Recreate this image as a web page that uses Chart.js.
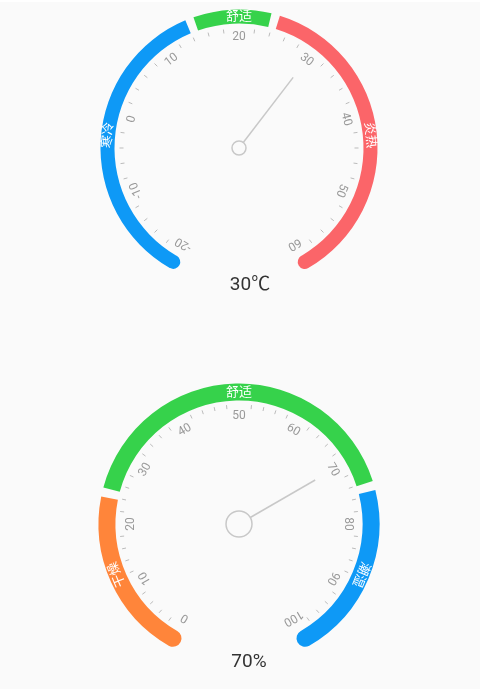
<!DOCTYPE html>
<html><head><meta charset="utf-8">
<script src="https://cdn.jsdelivr.net/npm/chart.js@4.4.1/dist/chart.umd.min.js"></script>
<style>
html,body{margin:0;padding:0;background:#fafafa;}
body{width:480px;height:689px;overflow:hidden;position:relative;}
.strip{position:absolute;left:0;top:0;width:480px;height:2px;background:#fff;}
canvas{display:block;}
</style></head><body>
<canvas id="c1" width="480" height="344"></canvas>
<canvas id="c2" width="480" height="345"></canvas>
<div class="strip"></div>
<script>
// ---- Temperature gauge data ----
const tempMin = -20;
const tempMax = 60;
const tempTickLabels = [-20, -10, 0, 10, 20, 30, 40, 50, 60];
const tempMinorStep = 2;
const tempBandNames = ['寒冷', '舒适', '炎热'];
const tempBandBounds = [-20, 14.4, 24.1, 60];
const tempBandLabelAt = [-2.5, 20, 42.5];
const tempValue = 30;
const tempUnit = '℃';

// ---- Humidity gauge data ----
const humMin = 0;
const humMax = 100;
const humTickLabels = [0, 10, 20, 30, 40, 50, 60, 70, 80, 90, 100];
const humMinorStep = 2;
const humBandNames = ['干燥', '舒适', '潮湿'];
const humBandBounds = [0, 24.4, 74.7, 100];
const humBandLabelAt = [12.5, 50, 87.5];
const humValue = 70;
const humUnit = '%';

const FONT = "Roboto, 'Noto Sans CJK SC', sans-serif";

function makeGauge(id, g, s) {
  const span = g.max - g.min;
  const dpu = s.sweep / span;
  const mid = (s.outer + s.inner) / 2;
  const capR = (s.outer - s.inner) / 2;
  const cap = capR / mid * 180 / Math.PI;
  const data = [], colors = [], radii = [];
  const n = g.bounds.length - 1;
  for (let i = 0; i < n; i++) {
    let len = (g.bounds[i + 1] - g.bounds[i]) * dpu;
    len += (i === 0) ? cap : -s.gap / 2;
    len += (i === n - 1) ? cap : -s.gap / 2;
    data.push(len); colors.push(s.colors[i]);
    radii.push({outerStart: i === 0 ? capR : 0, innerStart: i === 0 ? capR : 0,
                outerEnd: i === n - 1 ? capR : 0, innerEnd: i === n - 1 ? capR : 0});
    if (i < n - 1) { data.push(s.gap); colors.push('rgba(0,0,0,0)'); radii.push(0); }
  }
  const used = data.reduce((a, b) => a + b, 0);
  data.push(360 - used); colors.push('rgba(0,0,0,0)'); radii.push(0);

  const plugin = {
    id: 'gauge_' + id,
    afterDatasetsDraw(chart) {
      const ctx = chart.ctx;
      const el = chart.getDatasetMeta(0).data[0];
      const cx = el.x, cy = el.y;
      const ang = v => (s.start - (v - g.min) * dpu) * Math.PI / 180;
      const pt = (v, r) => [cx + r * Math.cos(ang(v)), cy - r * Math.sin(ang(v))];
      ctx.save();
      // minor ticks
      ctx.strokeStyle = s.tickColor; ctx.lineWidth = 1;
      for (let v = g.min; v <= g.max + 1e-9; v += g.minorStep) {
        if (g.ticks.some(t => Math.abs(t - v) < 1e-6)) continue;
        const [x1, y1] = pt(v, s.tickIn), [x2, y2] = pt(v, s.tickOut);
        ctx.beginPath(); ctx.moveTo(x1, y1); ctx.lineTo(x2, y2); ctx.stroke();
      }
      // tick labels
      ctx.font = s.labelFont; ctx.fillStyle = s.labelColor;
      ctx.textAlign = 'center'; ctx.textBaseline = 'middle';
      g.ticks.forEach(t => {
        const [x, y] = pt(t, s.labelR);
        ctx.save(); ctx.translate(x, y); ctx.rotate(Math.PI / 2 - ang(t));
        ctx.fillText(String(t), 0, 0); ctx.restore();
      });
      // band names
      ctx.font = s.bandFont; ctx.fillStyle = '#ffffff';
      g.names.forEach((nm, i) => {
        const v = g.labelAt[i];
        const [x, y] = pt(v, mid);
        ctx.save(); ctx.translate(x, y); ctx.rotate(Math.PI / 2 - ang(v));
        ctx.fillText(nm, 0, 0.5); ctx.restore();
      });
      // pointer
      const a = ang(g.value);
      ctx.strokeStyle = s.needleColor; ctx.lineWidth = 1.5;
      ctx.beginPath();
      ctx.moveTo(cx + s.hub * Math.cos(a), cy - s.hub * Math.sin(a));
      ctx.lineTo(cx + s.needle * Math.cos(a), cy - s.needle * Math.sin(a));
      ctx.stroke();
      ctx.beginPath(); ctx.arc(cx, cy, s.hub, 0, Math.PI * 2); ctx.stroke();
      // value text
      ctx.font = s.valueFont; ctx.fillStyle = '#333333';
      ctx.fillText(g.value + g.unit, cx + s.textDX, cy + s.textDY);
      ctx.restore();
    }
  };

  return new Chart(document.getElementById(id), {
    type: 'doughnut',
    data: {
      labels: data.map((_, i) => 'seg' + i),
      datasets: [{
        data: data,
        backgroundColor: colors,
        borderWidth: 0,
        hoverOffset: 0,
        borderRadius: c => radii[c.dataIndex]
      }]
    },
    options: {
      responsive: false,
      animation: false,
      events: [],
      rotation: 90 - (s.start + cap),
      circumference: 360,
      radius: s.outer,
      cutout: (s.inner / s.outer * 100) + '%',
      layout: {padding: s.padding},
      plugins: {legend: {display: false}, tooltip: {enabled: false}}
    },
    plugins: [plugin]
  });
}

makeGauge('c1', {
  min: tempMin, max: tempMax, ticks: tempTickLabels, minorStep: tempMinorStep,
  names: tempBandNames, bounds: tempBandBounds, labelAt: tempBandLabelAt,
  value: tempValue, unit: tempUnit
}, {
  start: 240, sweep: 300, outer: 138.5, inner: 124.5, gap: 3.6,
  colors: ['#0e99f6', '#36d24b', '#fb6569'],
  tickIn: 115.5, tickOut: 119.5, tickColor: '#bbbbbb',
  labelR: 111, labelFont: '12px ' + FONT, labelColor: '#999999',
  bandFont: '13px ' + FONT,
  needle: 89, hub: 7, needleColor: '#c8c8c8',
  valueFont: '19px ' + FONT, textDX: 11, textDY: 137,
  padding: {left: 0, right: 2, top: 0, bottom: 48}
});

makeGauge('c2', {
  min: humMin, max: humMax, ticks: humTickLabels, minorStep: humMinorStep,
  names: humBandNames, bounds: humBandBounds, labelAt: humBandLabelAt,
  value: humValue, unit: humUnit
}, {
  start: 240, sweep: 300, outer: 140.5, inner: 123.5, gap: 3.8,
  colors: ['#ff853a', '#36d24b', '#0e99f6'],
  tickIn: 115.5, tickOut: 119.5, tickColor: '#bbbbbb',
  labelR: 108.5, labelFont: '12px ' + FONT, labelColor: '#999999',
  bandFont: '13px ' + FONT,
  needle: 88, hub: 13, needleColor: '#c8c8c8',
  valueFont: '19px ' + FONT, textDX: 10, textDY: 138,
  padding: {left: 0, right: 2, top: 15, bottom: 0}
});
</script>
</body></html>
